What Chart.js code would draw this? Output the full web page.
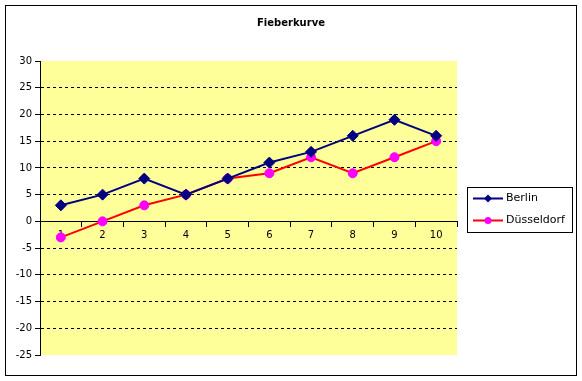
<!DOCTYPE html>
<html>
<head>
<meta charset="utf-8">
<script src="https://cdn.jsdelivr.net/npm/chart.js@4/dist/chart.umd.min.js"></script>
<style>
  html, body { margin: 0; padding: 0; background: #ffffff; }
  #wrap { width: 582px; height: 381px; }
</style>
</head>
<body>
<div id="wrap"><canvas id="c" width="582" height="381"></canvas></div>
<script>
const chartTitle = "Fieberkurve";
const categories = ["1", "2", "3", "4", "5", "6", "7", "8", "9", "10"];
const seriesNames = ["Berlin", "Düsseldorf"];
const berlin = [3, 5, 8, 5, 8, 11, 13, 16, 19, 16];
const duesseldorf = [-3, 0, 3, 5, 8, 9, 12, 9, 12, 15];
const yMin = -25, yMax = 30, yStep = 5;

const FONT = "'DejaVu Sans', sans-serif";

const decorPlugin = {
  id: 'decor',
  beforeDraw(chart) {
    const ctx = chart.ctx;
    const a = chart.chartArea;
    ctx.save();
    ctx.fillStyle = '#ffffff';
    ctx.fillRect(0, 0, chart.width, chart.height);
    ctx.fillStyle = '#FFFF99';
    ctx.fillRect(a.left, a.top, a.right - a.left, a.bottom - a.top);
    ctx.restore();
  },
  afterDraw(chart) {
    const ctx = chart.ctx;
    ctx.save();
    ctx.setLineDash([]);
    // outer border
    ctx.strokeStyle = '#000000';
    ctx.lineWidth = 1;
    ctx.strokeRect(5.5, 5.5, 571, 370);
    // title
    ctx.fillStyle = '#000000';
    ctx.font = "bold 10px " + FONT;
    ctx.textAlign = 'center';
    ctx.textBaseline = 'middle';
    ctx.fillText(chartTitle, 291, 23);
    // legend
    const lx = 467, ly = 187, lw = 105, lh = 45;
    ctx.fillStyle = '#ffffff';
    ctx.fillRect(lx, ly, lw, lh);
    ctx.strokeStyle = '#000000';
    ctx.lineWidth = 1;
    ctx.strokeRect(lx + 0.5, ly + 0.5, lw, lh);
    chart.data.datasets.forEach((ds, i) => {
      const y = ly + 11.5 + i * 22;
      ctx.strokeStyle = ds.borderColor;
      ctx.lineWidth = 2;
      ctx.beginPath();
      ctx.moveTo(473, y);
      ctx.lineTo(503, y);
      ctx.stroke();
      ctx.fillStyle = ds.pointBackgroundColor;
      ctx.beginPath();
      if (ds.pointStyle === 'rectRot') {
        const r = 4;
        ctx.moveTo(488, y - r); ctx.lineTo(488 + r, y); ctx.lineTo(488, y + r); ctx.lineTo(488 - r, y);
        ctx.closePath();
      } else {
        ctx.arc(488, y, 3.5, 0, Math.PI * 2);
      }
      ctx.fill();
      ctx.fillStyle = '#000000';
      ctx.font = "11px " + FONT;
      ctx.textAlign = 'left';
      ctx.textBaseline = 'middle';
      ctx.fillText(ds.label, 506, y);
    });
    ctx.restore();
  }
};

new Chart(document.getElementById('c'), {
  type: 'line',
  data: {
    labels: categories,
    datasets: [
      {
        label: seriesNames[0],
        data: berlin,
        borderColor: '#000080',
        backgroundColor: '#000080',
        pointBackgroundColor: '#000080',
        pointBorderColor: '#000080',
        pointStyle: 'rectRot',
        pointRadius: 5.5,
        pointBorderWidth: 1,
        borderWidth: 2,
        tension: 0,
        fill: false
      },
      {
        label: seriesNames[1],
        data: duesseldorf,
        borderColor: '#FF0000',
        backgroundColor: '#FF00FF',
        pointBackgroundColor: '#FF00FF',
        pointBorderColor: '#FF00FF',
        pointStyle: 'circle',
        pointRadius: 4.5,
        pointBorderWidth: 1,
        borderWidth: 2,
        tension: 0,
        fill: false
      }
    ]
  },
  options: {
    responsive: false,
    animation: false,
    devicePixelRatio: 1,
    layout: { padding: { top: 61, bottom: 26, right: 125, left: 5 } },
    plugins: {
      legend: { display: false },
      title: { display: false },
      tooltip: { enabled: false }
    },
    scales: {
      x: {
        type: 'category',
        position: { y: 0 },
        offset: true,
        grid: {
          offset: true,
          drawOnChartArea: false,
          drawTicks: true,
          tickLength: 5,
          color: '#000000',
          tickColor: '#000000'
        },
        border: { display: true, color: '#000000', width: 1 },
        ticks: {
          color: '#000000',
          font: { family: FONT, size: 10 },
          padding: 3,
          maxRotation: 0,
          autoSkip: false
        }
      },
      y: {
        min: yMin,
        max: yMax,
        afterFit(scale) { scale.width = 35; },
        grid: {
          color: (c) => {
            const v = c.tick ? c.tick.value : null;
            return (v === yMax || v === yMin || v === 0) ? 'rgba(0,0,0,0)' : '#000000';
          },
          tickColor: '#000000',
          tickBorderDash: [],
          tickLength: 5,
          lineWidth: 1
        },
        border: { display: true, color: '#000000', width: 1, dash: [3, 3] },
        ticks: {
          stepSize: yStep,
          color: '#000000',
          font: { family: FONT, size: 10 },
          padding: 3
        }
      }
    }
  },
  plugins: [decorPlugin]
});
</script>
</body>
</html>
